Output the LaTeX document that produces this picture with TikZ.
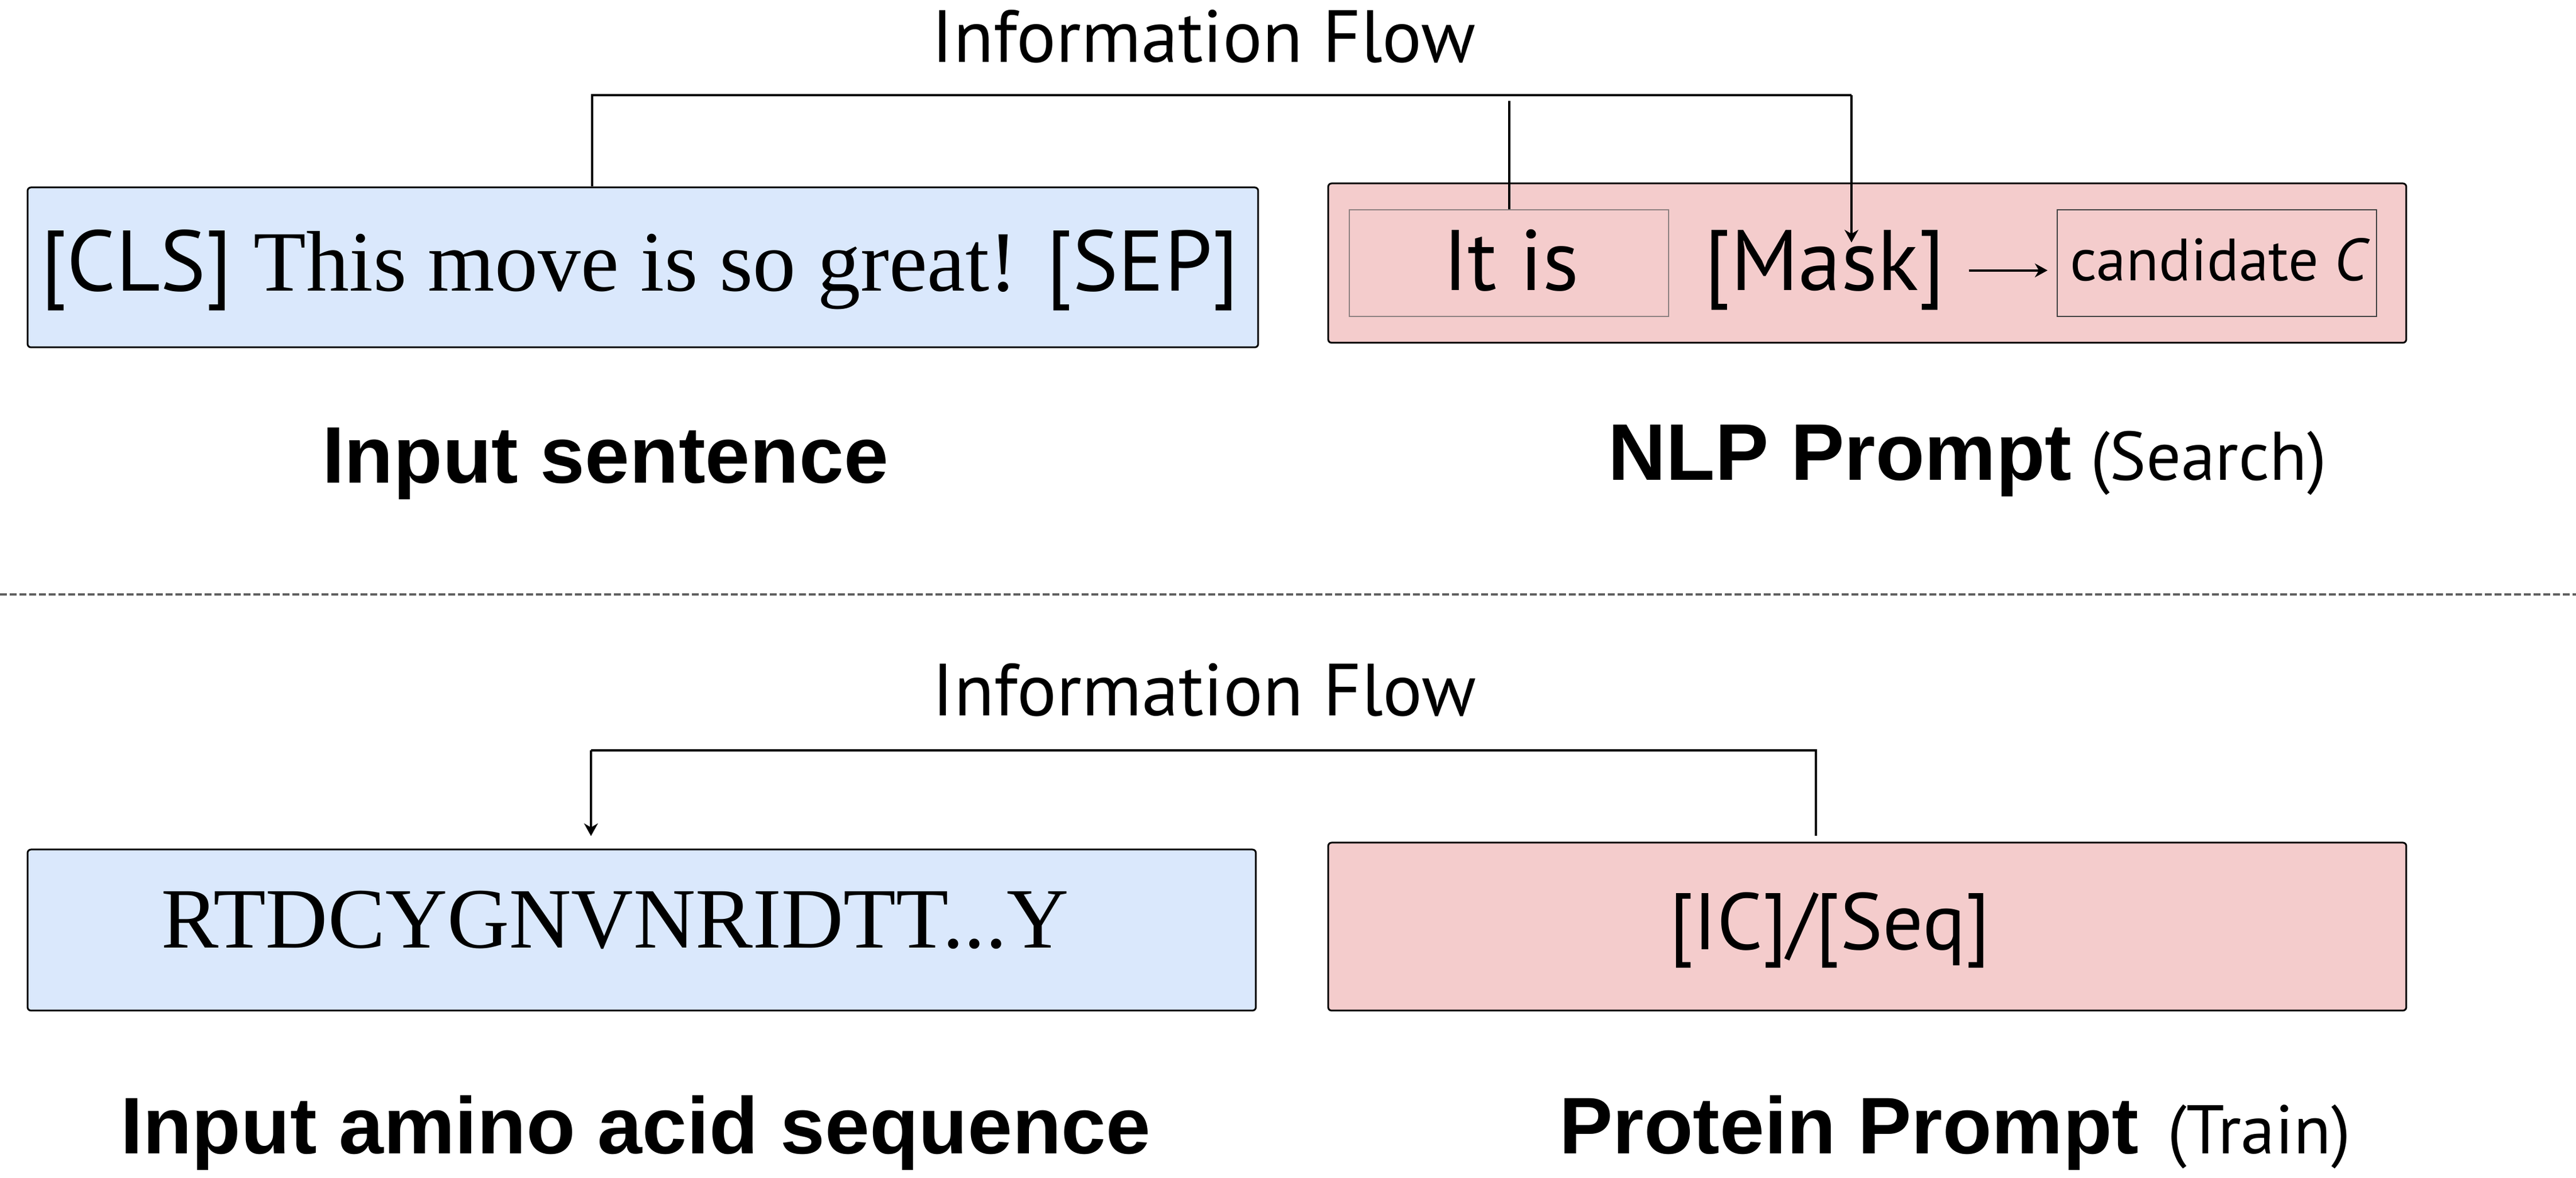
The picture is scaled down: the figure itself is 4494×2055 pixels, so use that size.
\documentclass[tikz,border=0pt]{standalone}
\usepackage{fontspec}
\setmainfont{Liberation Serif}
\setsansfont{PT Sans}
\newfontfamily\labelfont{Liberation Sans}
\usetikzlibrary{arrows.meta,calc}

\definecolor{sentblue}{HTML}{DAE8FC}
\definecolor{promptpink}{HTML}{F4CCCC}
\definecolor{splitgray}{HTML}{606060}
\definecolor{tokgray}{HTML}{8C8080}

\tikzset{
  seqbox/.style={draw=black, line width=0.3pt, rounded corners=0.6pt, inner sep=0pt},
  tokbox/.style={draw=#1, line width=0.2pt, inner sep=0pt, minimum width=55.7pt, minimum height=18.6pt},
  flowline/.style={line width=0.4pt},
  flowarrow/.style={line width=0.4pt, -{Stealth[length=2.2pt,width=2.4pt,inset=0.7pt]}},
  flowtitle/.style={font=\sffamily\fontsize{12.9}{15}\selectfont, anchor=base, inner sep=0pt},
  boxtext/.style={anchor=base, inner sep=0pt},
  caption/.style={font=\labelfont\bfseries\fontsize{14}{16}\selectfont, anchor=base, inner sep=0pt},
  mode/.style={font=\sffamily\fontsize{12}{14}\selectfont, anchor=base, inner sep=0pt},
  splitline/.style={draw=splitgray, line width=0.4pt, dash pattern=on 1.2pt off 0.5pt}
}

\begin{document}
\begin{tikzpicture}[x=0.1pt,y=0.1pt,yscale=-1,xscale=1]
\useasboundingbox (0,0) rectangle (4494,2055);

%% upper half: NLP prompt
\node[flowtitle] (flowtop) at (2100,109) {Information Flow};

\node[seqbox, fill=sentblue, minimum width=214.7pt, minimum height=27.9pt] (sentbox) at (1121.5,466.5) {};
\node[boxtext, font=\fontsize{15}{17}\selectfont] (sentence) at (1116,508)
  {{\sffamily [CLS]} This move is so great! {\sffamily [SEP]}};

\node[seqbox, fill=promptpink, minimum width=188.1pt, minimum height=27.8pt] (nlpbox) at (3257.5,459) {};
\node[tokbox=tokgray] (itisbox) at (2632.5,459) {};
\node[tokbox=black!75] (candbox) at (3867.5,459) {};
\node[boxtext, font=\sffamily\fontsize{15}{17}\selectfont] (itis) at (2636,507) {It is};
\node[boxtext, font=\sffamily\fontsize{15}{17}\selectfont] (mask) at (3183,507) {[Mask]};
\node[boxtext, font=\sffamily\fontsize{10.4}{12}\selectfont] (cand) at (3873,490) {candidate \textit{C}};

\node[caption] (sentlabel) at (1056,843) {Input sentence};
\node[caption] (nlplabel) at (3210,838) {NLP Prompt};
\node[mode] (searchnote) at (3853,838) {(Search)};

% connectors
\coordinate (flowL) at (1033,166);
\coordinate (flowR) at (3230,166);
\coordinate (itisfeed) at (2632.5,176);
\coordinate (masktip) at (3230,423);
\draw[flowline] (sentbox.north -| flowL) -- (flowL) -- (flowR);
\draw[flowline] (itisfeed) -- (itisbox.north);
\draw[flowarrow] (flowR) -- (masktip);
\draw[flowarrow, shorten <=4pt, shorten >=1.6pt] (mask.east) -- (mask.east -| candbox.west);

%% separator
\draw[splitline] (0,1037) -- (4494,1037);

%% lower half: protein prompt
\node[flowtitle] (flowbot) at (2101,1249) {Information Flow};

\node[seqbox, fill=sentblue, minimum width=214.3pt, minimum height=28.1pt] (aminobox) at (1119.5,1622.5) {};
\node[boxtext, font=\fontsize{15}{17}\selectfont] (seq) at (1073,1654) {RTDCYGNVNRIDTT...Y};

\node[seqbox, fill=promptpink, minimum width=188.1pt, minimum height=29.3pt] (protbox) at (3257.5,1616.5) {};
\node[boxtext, font=\sffamily\fontsize{14}{16}\selectfont] (ictext) at (3192,1657) {[IC]/[Seq]};

\node[caption] (aminolabel) at (1109,2013) {Input amino acid sequence};
\node[caption] (protlabel) at (3226,2013) {Protein Prompt};
\node[mode] (trainnote) at (3941,2013) {(Train)};

% connectors
\coordinate (flowBL) at (1031,1309);
\coordinate (flowBR) at (3168,1309);
\draw[flowline] ($(protbox.north -| flowBR)+(0,-10)$) -- (flowBR) -- (flowBL);
\draw[flowarrow] (flowBL) -- ($(aminobox.north -| flowBL)+(0,-22)$);

\end{tikzpicture}
\end{document}
